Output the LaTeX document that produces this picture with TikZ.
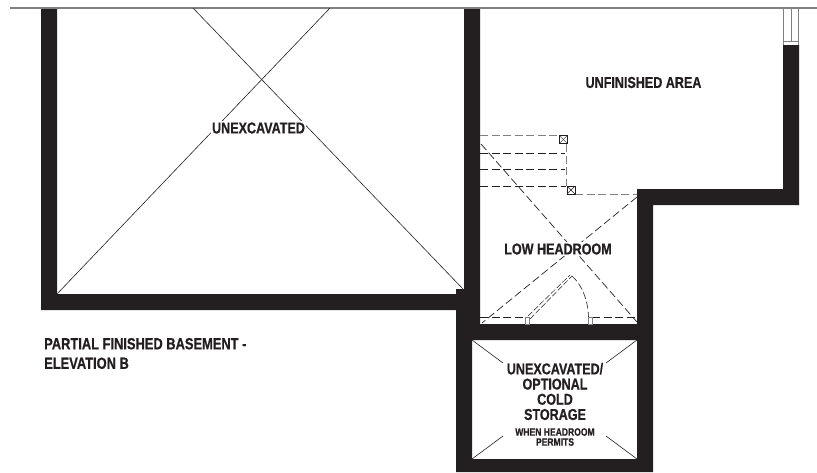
\documentclass[tikz,border=0pt]{standalone}
\usepackage{fontspec}
\setmainfont[FakeStretch=0.8,BoldFeatures={FakeBold=0.6}]{Liberation Sans}
\usetikzlibrary{calc}
\definecolor{wallblack}{HTML}{231F20}
\definecolor{linegray}{HTML}{808080}
\tikzset{
	roomlabel/.style={font=\bfseries\fontsize{15.7}{15.2}\selectfont, text=wallblack, align=center, inner sep=1pt},
	smalllabel/.style={font=\bfseries\fontsize{10.7}{10}\selectfont, text=wallblack, align=center, inner sep=1pt},
	thinline/.style={line width=0.6pt, wallblack},
	stairdash/.style={line width=0.7pt, wallblack, dash pattern=on 8pt off 3.5pt},
	graydash/.style={line width=0.9pt, linegray, dash pattern=on 8pt off 3.5pt},
	jamb/.style={line width=0.5pt, linegray},
}
\begin{document}
\begin{tikzpicture}[x=1pt,y=-1pt]

% frame %{{{2

	\useasboundingbox (0,0) rectangle (817,472);

% coordinates %{{{2

	\coordinate (TopL) at (10,8);
	\coordinate (TopR) at (817,8);

	\coordinate (BaseNW) at (57,294);
	\coordinate (BaseNE) at (463,289);
	\coordinate (CrossA) at (193,8);
	\coordinate (CrossB) at (330,8);

	\coordinate (ColdNW) at (472,340);
	\coordinate (ColdNE) at (637,340);
	\coordinate (ColdSE) at (637,459);
	\coordinate (ColdSW) at (472,459);

	\coordinate (BoxA) at (563.3,139.5);
	\coordinate (BoxB) at (571,190);

% walls %{{{2

	\fill[wallblack, even odd rule] (41,8) -- (57,8) -- (57,294) -- (456,294) -- (456,289)
		-- (464,289) -- (464,8) -- (480,8) -- (480,324) -- (637,324) -- (637,189)
		-- (783,189) -- (783,45) -- (799,45) -- (799,205) -- (653,205) -- (653,472)
		-- (456,472) -- (456,310) -- (41,310) -- cycle
		(ColdNW) -- (ColdNE) -- (ColdSE) -- (ColdSW) -- cycle;

% top line and window %{{{2

	\draw[line width=1.2pt, linegray] (TopL) -- (TopR);
	\draw[line width=0.7pt, linegray] (783.5,8) -- (783.5,45);
	\draw[line width=0.7pt, linegray] (791,8) -- (791,41);
	\draw[line width=0.7pt, linegray] (798.5,8) -- (798.5,45);
	\draw[line width=0.7pt, linegray] (783.5,41.5) -- (798.5,41.5);

% unexcavated cross %{{{2

	\draw[thinline] (CrossA) -- (BaseNE);
	\draw[thinline] (CrossB) -- (BaseNW);

% cold storage cross %{{{2

	\draw[thinline] (ColdNW) -- (503,363);
	\draw[thinline] (ColdNE) -- (606,363);
	\draw[thinline] (ColdSW) -- (503,436);
	\draw[thinline] (ColdSE) -- (606,436);

% stairs %{{{2

	\draw[graydash] (480,135) -- (559,135);
	\draw[stairdash] (480,153) -- (565,153);
	\draw[stairdash] (480,169) -- (565,169);
	\draw[stairdash] (480,186) -- (566,186);
	\draw[graydash] (566.7,144) -- (566.7,186);
	\draw[graydash] (575,194) -- (637,194);

	\foreach \c in {BoxA,BoxB} {
		\draw[line width=0.8pt, wallblack] ($(\c)+(-4,-4)$) rectangle ($(\c)+(4,4)$);
		\draw[line width=0.4pt, wallblack] ($(\c)+(-4,-4)$) -- ($(\c)+(4,4)$);
		\draw[line width=0.4pt, wallblack] ($(\c)+(-4,4)$) -- ($(\c)+(4,-4)$);
	}

% low headroom dashes %{{{2

	\draw[stairdash] (481,144) -- (637,322);
	\draw[stairdash] (637,197) -- (482,323);

% door %{{{2

	\draw[stairdash] (480,317) -- (525,317);
	\draw[stairdash] (592,317) -- (637,317);
	\draw[jamb] (525,317) rectangle (529,324);
	\draw[jamb] (588.5,317) rectangle (592.5,324);
	\draw[line width=0.5pt, wallblack, dash pattern=on 6pt off 2pt] (528,316) -- (570,275);
	\draw[line width=0.5pt, wallblack, dash pattern=on 6pt off 2pt] (530,319) -- (572,276);
	\draw[line width=0.6pt, wallblack, dash pattern=on 7pt off 3pt]
		(572,276) .. controls (582,285) and (588,300) .. (588.5,317);

% labels %{{{2

	\node[roomlabel, fill=white] (Unexc) at (258.5,128) {UNEXCAVATED};
	\node[roomlabel] (Unfin) at (643.5,82.5) {UNFINISHED AREA};
	\node[roomlabel, fill=white, inner xsep=2pt] (Low) at (558,249) {LOW HEADROOM};
	\node[roomlabel, align=left, anchor=west, font=\bfseries\fontsize{16.1}{19.5}\selectfont] (Title) at (43,353.5)
		{PARTIAL FINISHED BASEMENT -\\ELEVATION B};
	\node[roomlabel] (Cold) at (555,391.5) {UNEXCAVATED/\\OPTIONAL\\COLD\\STORAGE};
	\node[smalllabel] (When) at (555,437) {WHEN HEADROOM\\PERMITS};

% closing %{{{2

\end{tikzpicture}
\end{document}
